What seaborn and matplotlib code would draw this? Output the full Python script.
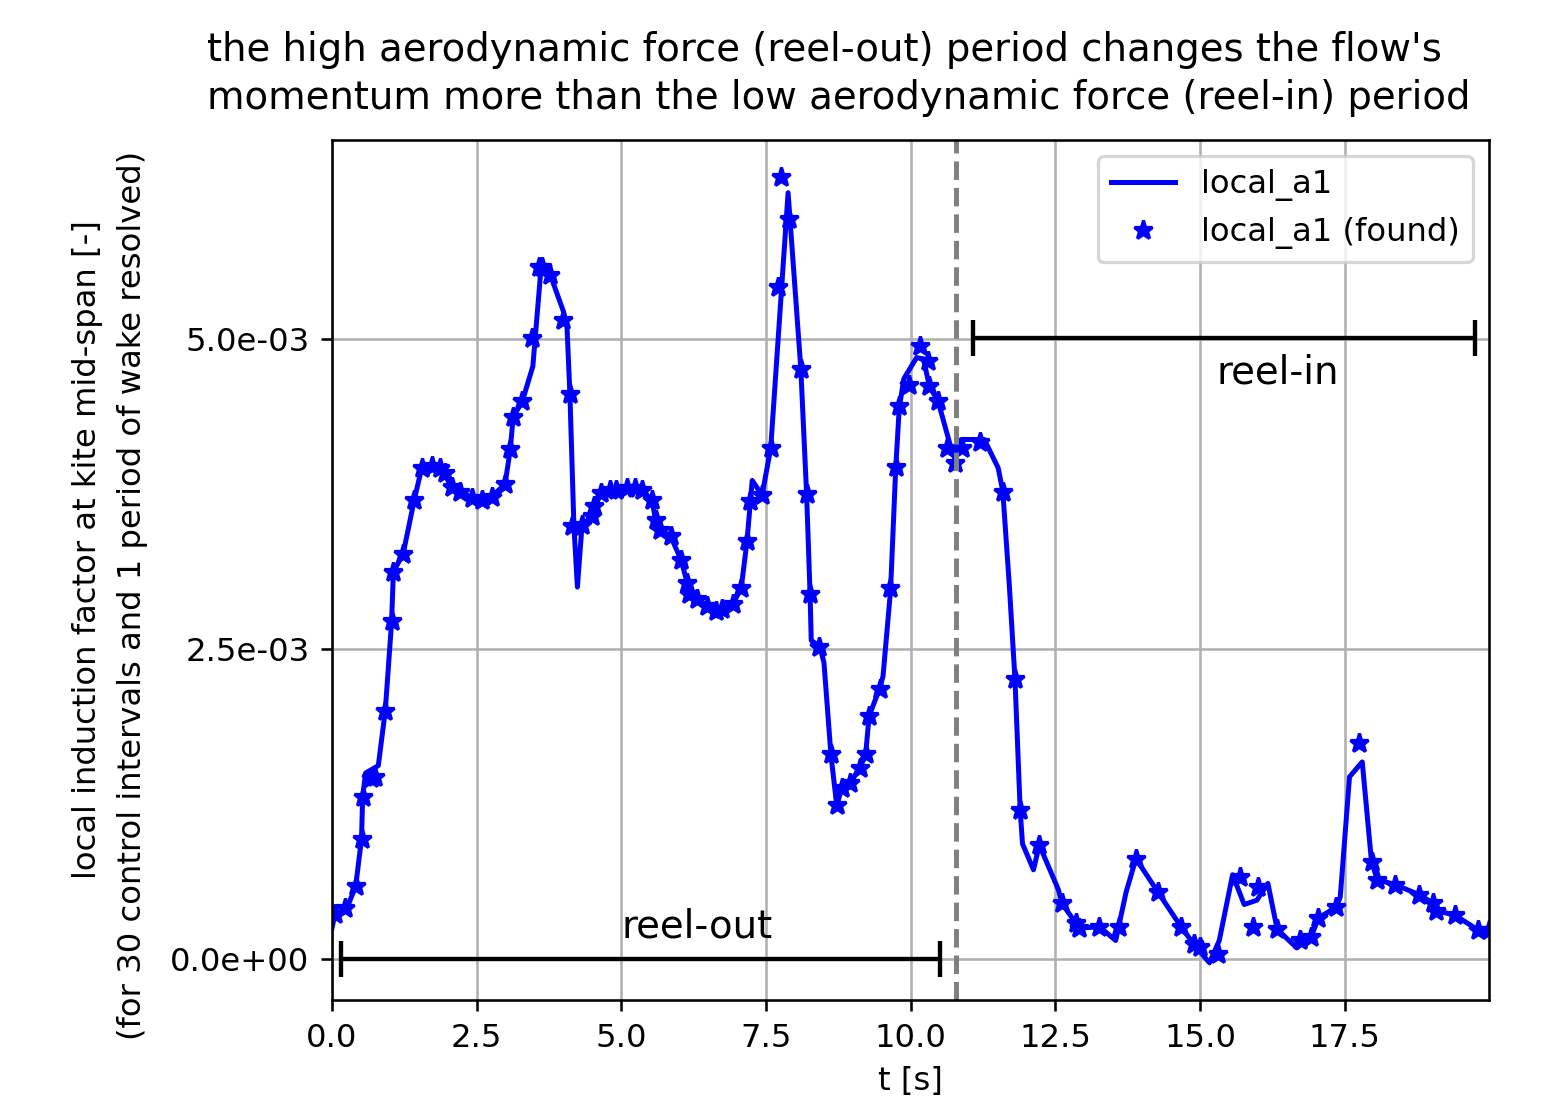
import numpy as np
import pandas as pd
import matplotlib
matplotlib.use("Agg")
import matplotlib.pyplot as plt
from matplotlib.ticker import FormatStrFormatter, MultipleLocator
import seaborn as sns

# ---------------- data ----------------
SCALE = 1e-3  # values below are in units of 1e-3

line_t = [0.00, 0.05, 0.25, 0.41, 0.51, 0.53, 0.58, 0.80, 0.92, 1.03, 1.06, 1.23, 1.42,
          1.55, 1.72, 1.87, 2.07, 2.21, 2.42, 2.59, 2.76, 2.99, 3.08, 3.13, 3.29, 3.47,
          3.62, 3.77, 4.00, 4.06, 4.11, 4.18, 4.24, 4.32, 4.49, 4.64, 4.90, 5.10, 5.24,
          5.36, 5.53, 5.59, 5.67, 5.85, 6.03, 6.14, 6.31, 6.48, 6.63, 6.74, 6.92, 7.07,
          7.17, 7.26, 7.43, 7.58, 7.88, 8.10, 8.20, 8.26, 8.28, 8.43, 8.50, 8.62, 8.72,
          8.81, 8.95, 9.12, 9.22, 9.28, 9.46, 9.52, 9.65, 9.74, 9.80, 9.88, 10.10, 10.22,
          10.32, 10.47, 10.69, 10.75, 10.87, 11.27, 11.51, 11.59, 11.70, 11.80, 11.89,
          11.93, 12.12, 12.22, 12.55, 12.61, 12.85, 12.91, 13.26, 13.54, 13.72, 13.89,
          14.27, 14.67, 14.89, 15.16, 15.33, 15.56, 15.76, 15.98, 16.17, 16.33, 16.67,
          16.92, 17.04, 17.35, 17.42, 17.58, 17.80, 17.96, 18.06, 18.37, 18.78, 19.03,
          19.08, 19.40, 19.80, 19.99]
line_a = [0.25, 0.36, 0.40, 0.59, 0.97, 1.31, 1.50, 1.56, 2.00, 2.72, 3.12, 3.27, 3.70,
          3.96, 3.98, 3.96, 3.81, 3.77, 3.72, 3.70, 3.73, 3.83, 4.11, 4.37, 4.50, 4.78,
          5.62, 5.52, 5.22, 5.10, 4.56, 3.49, 3.00, 3.50, 3.57, 3.76, 3.78, 3.80, 3.80,
          3.78, 3.70, 3.54, 3.46, 3.41, 3.22, 3.03, 2.90, 2.85, 2.81, 2.82, 2.86, 2.99,
          3.37, 3.86, 3.74, 4.12, 6.18, 4.76, 3.75, 2.94, 2.57, 2.52, 2.39, 1.65, 1.24,
          1.38, 1.42, 1.54, 1.65, 1.96, 2.18, 2.28, 2.97, 3.96, 4.44, 4.68, 4.85, 4.84,
          4.62, 4.50, 4.13, 4.05, 4.19, 4.19, 3.96, 3.77, 3.03, 2.26, 1.20,
          0.93, 0.72, 0.92, 0.56, 0.45, 0.29, 0.25, 0.26, 0.15, 0.54, 0.81,
          0.54, 0.26, 0.12, -0.03, 0.15, 0.68, 0.44, 0.475, 0.61, 0.24, 0.09,
          0.18, 0.33, 0.42, 0.50, 1.47, 1.59, 0.785, 0.64, 0.60, 0.52, 0.45,
          0.39, 0.355, 0.234, 0.234]

star_t = [0.05, 0.22, 0.41, 0.51, 0.53, 0.67, 0.74, 0.92, 1.03, 1.06, 1.23, 1.42, 1.55,
          1.72, 1.87, 1.955, 2.07, 2.21, 2.42, 2.59, 2.76, 2.99, 3.08, 3.13, 3.29, 3.46,
          3.57, 3.63, 3.77, 3.99, 4.11, 4.15, 4.32, 4.49, 4.52, 4.64, 4.80, 4.90, 5.10,
          5.24, 5.36, 5.53, 5.59, 5.67, 5.85, 6.03, 6.14, 6.16, 6.31, 6.48, 6.63, 6.74,
          6.92, 7.07, 7.17, 7.22, 7.43, 7.58, 7.71, 7.75, 7.89, 8.10, 8.20, 8.26, 8.42,
          8.62, 8.73, 8.81, 8.95, 9.12, 9.22, 9.28, 9.46, 9.64, 9.74, 9.80, 9.97, 10.16,
          10.29, 10.32, 10.47, 10.63, 10.76, 10.89, 11.20, 11.59, 11.80, 11.89, 12.22,
          12.61, 12.85, 12.91, 13.26, 13.60, 13.89, 14.27, 14.67, 14.89, 14.99, 15.31,
          15.68, 15.91, 16.00, 16.33, 16.72, 16.92, 17.04, 17.35, 17.74, 17.96, 18.06,
          18.37, 18.78, 19.03, 19.08, 19.40, 19.80, 19.99]
star_a = [0.36, 0.41, 0.59, 0.97, 1.31, 1.46, 1.47, 2.00, 2.725, 3.125, 3.27, 3.70, 3.96,
          3.98, 3.96, 3.92, 3.81, 3.77, 3.72, 3.70, 3.73, 3.83, 4.11, 4.37, 4.50, 5.01,
          5.58, 5.58, 5.52, 5.15, 4.56, 3.49, 3.50, 3.57, 3.65, 3.76, 3.78, 3.78, 3.80,
          3.80, 3.78, 3.70, 3.54, 3.46, 3.41, 3.22, 3.03, 2.94, 2.90, 2.85, 2.81, 2.82,
          2.86, 2.99, 3.37, 3.69, 3.74, 4.12, 5.42, 6.31, 5.97, 4.76, 3.75, 2.94, 2.52,
          1.65, 1.24, 1.38, 1.42, 1.54, 1.65, 1.96, 2.18, 2.99, 3.97, 4.46, 4.63, 4.94,
          4.82, 4.62, 4.50, 4.12, 4.00, 4.12, 4.17, 3.77, 2.26, 1.20, 0.92,
          0.45, 0.29, 0.25, 0.26, 0.26, 0.81, 0.54, 0.26, 0.12, 0.10, 0.04,
          0.66, 0.26, 0.58, 0.24, 0.15, 0.18, 0.33, 0.42, 1.74, 0.785, 0.64,
          0.60, 0.52, 0.45, 0.39, 0.355, 0.234, 0.234]

reel_out_span = (0.16, 10.50)   # t [s]
reel_in_span = (11.07, 19.74)   # t [s]
switch_t = 10.78                # t [s]

title_text = ("the high aerodynamic force (reel-out) period changes the flow's\n"
              "momentum more than the low aerodynamic force (reel-in) period")
ylabel_1 = "local induction factor at kite mid-span [-]"
ylabel_2 = "(for 30 control intervals and 1 period of wake resolved)"

line_df = pd.DataFrame({"t": line_t, "a": np.array(line_a) * SCALE})
star_df = pd.DataFrame({"t": star_t, "a": np.array(star_a) * SCALE})

# ---------------- figure ----------------
W, H, DPI = 1546, 1103, 232
fig = plt.figure(figsize=(W / DPI, H / DPI), dpi=DPI)
ax = fig.add_axes([332 / W, 1 - 1000 / H, 1157 / W, 860 / H])

sns.lineplot(data=line_df, x="t", y="a", ax=ax, color="blue", linewidth=1.55,
             estimator=None, sort=False, label="local_a1")
sns.lineplot(data=star_df, x="t", y="a", ax=ax, color="blue", linestyle="none",
             marker="*", markersize=6.2, markeredgecolor="blue", markeredgewidth=1.0,
             estimator=None, sort=False, label="local_a1 (found)")

ax.axvline(switch_t, color="gray", linestyle="--", linewidth=1.55)

# reel-out / reel-in span bars
for (a0, a1), yv in ((reel_out_span, 0.0), (reel_in_span, 5.01e-3)):
    ax.errorbar([(a0 + a1) / 2], [yv], xerr=[(a1 - a0) / 2], color="black",
                linewidth=1.35, capsize=5.7, capthick=1.35)
ax.text(5.0, 0.17e-3, "reel-out", fontsize=12, ha="left", va="baseline")
ax.text(15.28, 4.64e-3, "reel-in", fontsize=12, ha="left", va="baseline")

ax.set_xlim(0, 19.99)
ax.set_ylim(-0.33e-3, 6.605e-3)
ax.yaxis.set_major_locator(MultipleLocator(2.5e-3))
ax.yaxis.set_major_formatter(FormatStrFormatter("%.1e"))
ax.xaxis.set_major_locator(MultipleLocator(2.5))
ax.grid(True, color="#b0b0b0", linewidth=0.8)
ax.set_axisbelow(True)
ax.set_xlabel("t [s]", fontsize=10)
ax.set_ylabel("")
ax.tick_params(labelsize=10)

ax.legend(loc="upper right", fontsize=10)

fig.text(207 / W, 1 - 31 / H, title_text, fontsize=12, ha="left", va="top",
         multialignment="left", linespacing=1.32)
fig.text(88 / W, 1 - 550 / H, ylabel_1, fontsize=10, rotation=90,
         ha="center", va="center")
fig.text(133 / W, 1 - 595 / H, ylabel_2, fontsize=10, rotation=90,
         ha="center", va="center")

fig.savefig("out.png", dpi=DPI)
